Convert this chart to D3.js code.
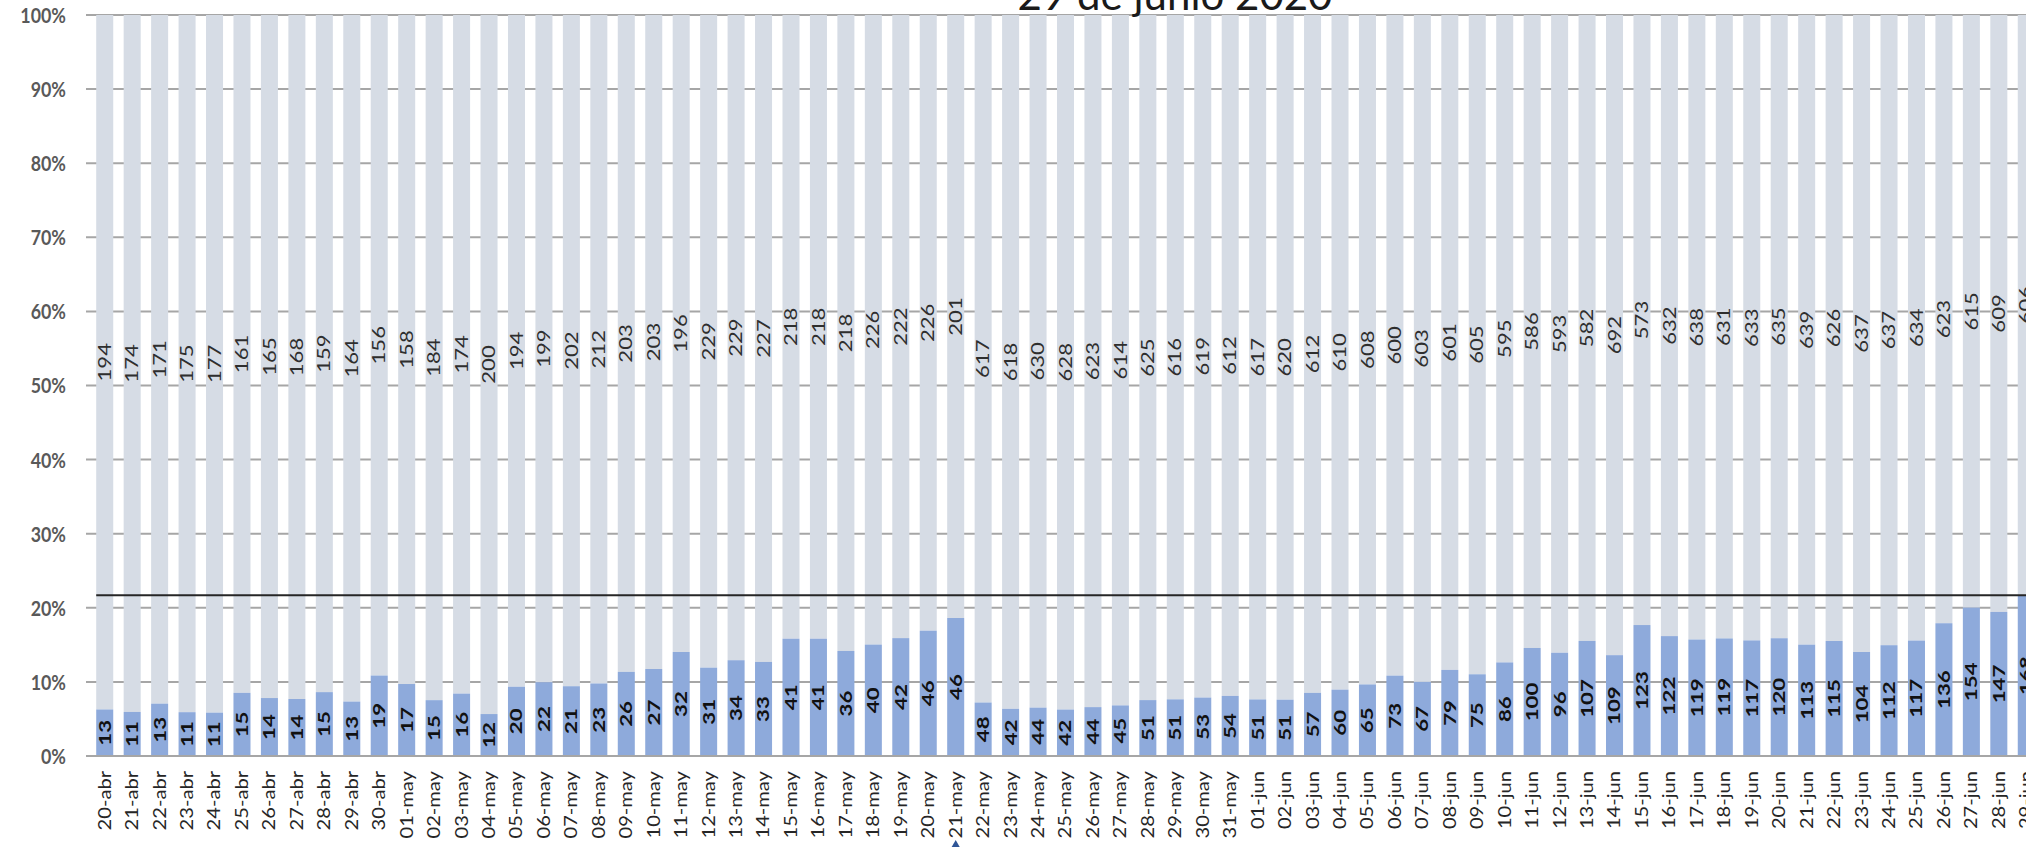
<!DOCTYPE html>
<html><head><meta charset="utf-8">
<script src="https://cdn.jsdelivr.net/npm/d3@7"></script>
<style>
html,body{margin:0;padding:0;background:#fff;overflow:hidden;}
svg{display:block;}
text{font-family:Lato,"Noto Sans",sans-serif;}
</style></head>
<body>
<svg id="chart" width="2026" height="847"></svg>
<script>
const categories = [
"20-abr","21-abr","22-abr","23-abr","24-abr","25-abr","26-abr","27-abr","28-abr","29-abr","30-abr",
"01-may","02-may","03-may","04-may","05-may","06-may","07-may","08-may","09-may","10-may",
"11-may","12-may","13-may","14-may","15-may","16-may","17-may","18-may","19-may","20-may",
"21-may","22-may","23-may","24-may","25-may","26-may","27-may","28-may","29-may","30-may","31-may",
"01-jun","02-jun","03-jun","04-jun","05-jun","06-jun","07-jun","08-jun","09-jun","10-jun",
"11-jun","12-jun","13-jun","14-jun","15-jun","16-jun","17-jun","18-jun","19-jun","20-jun",
"21-jun","22-jun","23-jun","24-jun","25-jun","26-jun","27-jun","28-jun","29-jun"];
const blueValues = [
13,11,13,11,11,15,14,14,15,13,19,
17,15,16,12,20,22,21,23,26,27,
32,31,34,33,41,41,36,40,42,46,
46,48,42,44,42,44,45,51,51,53,54,
51,51,57,60,65,73,67,79,75,86,
100,96,107,109,123,122,119,119,117,120,
113,115,104,112,117,136,154,147,168];
const greyValues = [
194,174,171,175,177,161,165,168,159,164,156,
158,184,174,200,194,199,202,212,203,203,
196,229,229,227,218,218,218,226,222,226,
201,617,618,630,628,623,614,625,616,619,612,
617,620,612,610,608,600,603,601,605,595,
586,593,582,692,573,632,638,631,633,635,
639,626,637,637,634,623,615,609,606];
const yTicks = [0,10,20,30,40,50,60,70,80,90,100];
const referenceLine = 21.7;
const titleText = "29 de junio 2020";
const markerCategory = "21-may";

const svg = d3.select("#chart");
const x = d3.scaleBand().domain(categories).range([91, 2040]).paddingInner(0.38).paddingOuter(0.19);
const y = d3.scaleLinear().domain([0,100]).range([756, 15]);

const rows = categories.map((c,i)=>{
  const tot = blueValues[i]+greyValues[i];
  const bp = blueValues[i]/tot*100;
  return {c, blue:blueValues[i], grey:greyValues[i], bp};
});

// gridlines
const grid = svg.append("g");
grid.selectAll("line").data(yTicks.filter(d=>d>0)).join("line")
  .attr("x1",86).attr("x2",2040)
  .attr("y1",d=>y(d)).attr("y2",d=>y(d))
  .attr("stroke","#a6a6a6").attr("stroke-width",2);

// bars
const bars = svg.append("g");
bars.selectAll("rect.g").data(rows).join("rect").attr("class","g")
  .attr("x",d=>x(d.c)).attr("width",x.bandwidth())
  .attr("y",y(100)).attr("height",d=>y(d.bp)-y(100))
  .attr("fill","#d6dce5");
bars.selectAll("rect.b").data(rows).join("rect").attr("class","b")
  .attr("x",d=>x(d.c)).attr("width",x.bandwidth())
  .attr("y",d=>y(d.bp)).attr("height",d=>y(0)-y(d.bp))
  .attr("fill","#8eaadb");

// axis baseline
svg.append("line").attr("x1",86).attr("x2",2040).attr("y1",y(0)).attr("y2",y(0))
  .attr("stroke","#a6a6a6").attr("stroke-width",2);

// reference line
svg.append("line").attr("x1",x(categories[0])).attr("x2",2040)
  .attr("y1",y(referenceLine)).attr("y2",y(referenceLine))
  .attr("stroke","#262626").attr("stroke-width",2);

// y axis labels
const yAxis = d3.axisLeft(y).tickValues(yTicks).tickFormat(d=>d+"%").tickSize(0).tickPadding(0);
const ya = svg.append("g").attr("transform","translate(66,0)").call(yAxis);
ya.select(".domain").remove();
ya.selectAll("text").attr("font-size",17).attr("font-weight","bold").attr("fill","#595959")
  .attr("font-family","Lato, sans-serif").attr("x",0).attr("dy","0.35em")
  .attr("transform","scale(1.05,1.25)");

// x labels
const xl = svg.append("g");
xl.selectAll("text").data(rows).join("text")
  .attr("transform",d=>`translate(${x(d.c)+x.bandwidth()/2},771) rotate(-90) scale(1.22,1)`)
  .attr("text-anchor","end").attr("dy","0.36em")
  .attr("font-size",16.5).attr("fill","#262626")
  .text(d=>d.c);

// blue labels
const bl = svg.append("g");
bl.selectAll("text").data(rows).join("text")
  .attr("transform",d=>`translate(${x(d.c)+x.bandwidth()/2},${y(d.bp/2)}) rotate(-90) scale(1.35,1)`)
  .attr("text-anchor","middle").attr("dy","0.36em")
  .attr("font-size",16.5).attr("font-weight","bold").attr("fill","#111111")
  .text(d=>d.blue);

// grey labels
const gl = svg.append("g");
gl.selectAll("text").data(rows).join("text")
  .attr("transform",d=>`translate(${x(d.c)+x.bandwidth()/2},${y((d.bp+100)/2)}) rotate(-90) scale(1.3,1)`)
  .attr("text-anchor","middle").attr("dy","0.36em")
  .attr("font-size",17).attr("fill","#2e2e2e")
  .text(d=>d.grey);

// title (cropped at top)
svg.append("text").attr("x",1175).attr("y",10).attr("text-anchor","middle")
  .attr("font-size",42).attr("fill","#1a1a1a").text(titleText);

// marker
svg.append("path").attr("d",d3.symbol(d3.symbolDiamond,260)())
  .attr("transform",`translate(${x(markerCategory)+x.bandwidth()/2},855)`)
  .attr("fill","#2f5597");
</script>
</body></html>
